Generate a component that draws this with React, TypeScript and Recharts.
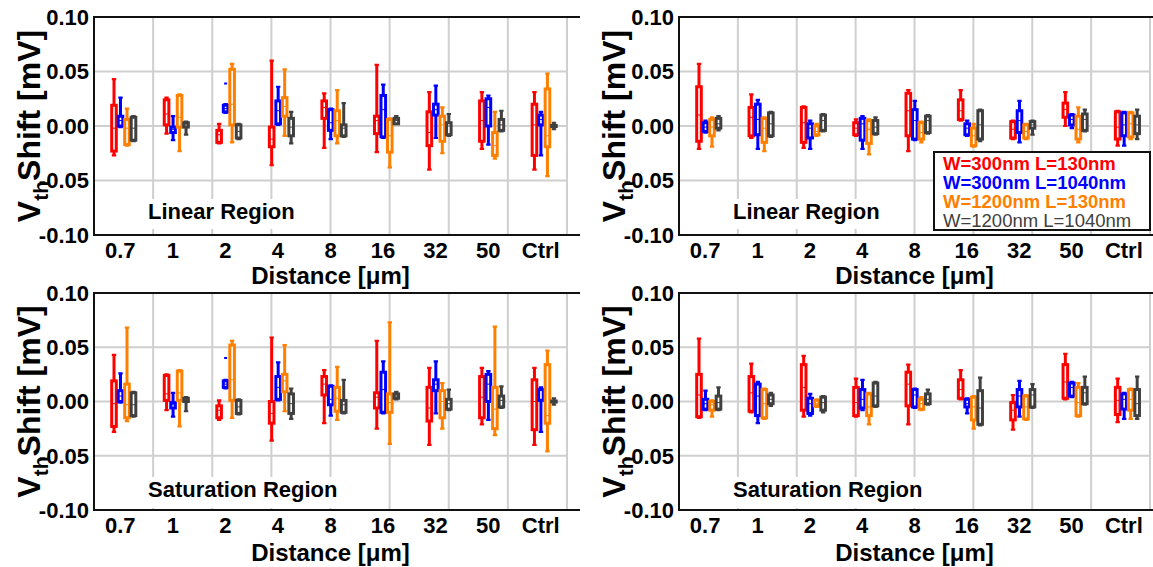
import React from "react";
import { ComposedChart, Bar, XAxis, YAxis, CartesianGrid, ReferenceArea } from "recharts";

const FONT = '"Liberation Sans", Arial, sans-serif';

const distances = ["0.7", "1", "2", "4", "8", "16", "32", "50", "Ctrl"];
const seriesNames = ["W=300nm L=130nm", "W=300nm L=1040nm", "W=1200nm L=130nm", "W=1200nm L=1040nm"];
const seriesColors = ["#ff0000", "#0000ff", "#ff8000", "#404040"];
const yTicks = [-0.1, -0.05, 0, 0.05, 0.1];

// each entry: [min, q1, median, q3, max] per distance
const linLeftW300L130 = [
  [-0.027, -0.023, -0.002, 0.019, 0.043], [-0.007, 0.001, 0.011, 0.024, 0.026], [-0.016, -0.015, -0.008, -0.004, 0.002],
  [-0.036, -0.019, -0.012, -0.001, 0.06], [-0.02, 0.007, 0.017, 0.023, 0.03], [-0.024, -0.007, 0.005, 0.009, 0.056],
  [-0.04, -0.018, -0.006, 0.013, 0.031], [-0.021, -0.014, 0.005, 0.023, 0.031], [-0.04, -0.027, 0.001, 0.02, 0.031],
];
const linLeftW300L1040 = [
  [-0.001, 0.0, 0.005, 0.009, 0.026], [-0.013, -0.006, -0.003, -0.001, 0.009], [0.012, 0.013, 0.016, 0.019, 0.02],
  [0.001, 0.002, 0.014, 0.023, 0.036], [-0.012, -0.004, 0.003, 0.015, 0.016], [-0.011, -0.01, 0.015, 0.028, 0.038],
  [-0.011, 0.01, 0.015, 0.02, 0.037], [-0.017, 0.0, 0.017, 0.025, 0.028], [-0.027, 0.001, 0.006, 0.01, 0.013],
];
const linLeftW1200L130 = [
  [-0.018, -0.017, -0.002, 0.006, 0.016], [-0.023, -0.001, 0.008, 0.028, 0.029], [-0.015, 0.001, 0.02, 0.052, 0.057],
  [-0.009, 0.009, 0.018, 0.026, 0.052], [-0.016, -0.009, 0.005, 0.014, 0.033], [-0.038, -0.024, -0.009, 0.006, 0.007],
  [-0.025, -0.014, 0.001, 0.009, 0.017], [-0.03, -0.027, -0.018, -0.006, 0.013], [-0.046, -0.019, -0.009, 0.034, 0.048],
];
const linLeftW1200L1040 = [
  [-0.014, -0.013, -0.002, 0.008, 0.009], [-0.008, -0.001, 0.001, 0.003, 0.004], [-0.012, -0.011, -0.005, 0.001, 0.002],
  [-0.016, -0.009, -0.001, 0.007, 0.013], [-0.01, -0.009, -0.002, 0.001, 0.021], [0.002, 0.002, 0.005, 0.007, 0.009],
  [-0.009, -0.008, 0.0, 0.003, 0.011], [-0.005, -0.004, 0.001, 0.006, 0.014], [-0.003, -0.0005, 0.0, 0.0005, 0.003],
];

const linRightW300L130 = [
  [-0.021, -0.014, 0.01, 0.036, 0.057], [-0.011, -0.009, 0.008, 0.017, 0.029], [-0.02, -0.015, 0.003, 0.017, 0.018],
  [-0.009, -0.008, -0.002, 0.003, 0.006], [-0.023, -0.009, 0.014, 0.03, 0.033], [0.005, 0.006, 0.014, 0.024, 0.033],
  [-0.012, -0.011, -0.003, 0.004, 0.005], [0.0, 0.008, 0.015, 0.021, 0.031], [-0.018, -0.012, -0.001, 0.013, 0.014],
];
const linRightW300L1040 = [
  [-0.006, -0.005, -0.001, 0.003, 0.005], [-0.021, -0.008, 0.006, 0.02, 0.024], [-0.021, -0.011, -0.002, 0.002, 0.005],
  [-0.021, -0.013, 0.002, 0.007, 0.009], [-0.013, -0.012, 0.005, 0.015, 0.023], [-0.009, -0.008, -0.002, 0.002, 0.005],
  [-0.015, -0.006, 0.005, 0.014, 0.023], [-0.002, 0.001, 0.006, 0.01, 0.011], [-0.018, -0.009, 0.001, 0.012, 0.013],
];
const linRightW1200L130 = [
  [-0.019, -0.009, -0.001, 0.006, 0.008], [-0.023, -0.015, -0.002, 0.007, 0.008], [-0.009, -0.008, -0.005, 0.0, 0.002],
  [-0.026, -0.016, -0.003, 0.005, 0.006], [-0.015, -0.012, -0.006, 0.003, 0.004], [-0.019, -0.018, -0.009, -0.002, 0.002],
  [-0.012, -0.011, -0.005, 0.001, 0.002], [-0.015, -0.012, -0.003, 0.009, 0.017], [-0.012, -0.01, 0.002, 0.012, 0.013],
];
const linRightW1200L1040 = [
  [-0.004, -0.002, 0.002, 0.007, 0.009], [-0.01, -0.009, 0.002, 0.012, 0.013], [-0.005, -0.004, 0.005, 0.01, 0.011],
  [-0.008, -0.007, -0.001, 0.005, 0.008], [-0.007, -0.006, 0.005, 0.009, 0.01], [-0.014, -0.012, 0.001, 0.014, 0.015],
  [-0.008, -0.002, 0.001, 0.004, 0.005], [-0.005, -0.004, 0.006, 0.011, 0.015], [-0.012, -0.007, 0.001, 0.009, 0.015],
];

const satLeftW300L130 = [
  [-0.028, -0.023, -0.002, 0.019, 0.043], [-0.008, 0.001, 0.007, 0.024, 0.025], [-0.017, -0.015, -0.008, -0.004, 0.001],
  [-0.036, -0.02, -0.011, 0.0, 0.059], [-0.02, 0.006, 0.016, 0.023, 0.029], [-0.025, -0.006, 0.004, 0.008, 0.056],
  [-0.04, -0.018, -0.006, 0.013, 0.031], [-0.021, -0.015, 0.004, 0.023, 0.031], [-0.04, -0.026, 0.0, 0.02, 0.031],
];
const satLeftW300L1040 = [
  [-0.001, 0.0, 0.005, 0.01, 0.026], [-0.014, -0.006, -0.003, -0.001, 0.008], [0.012, 0.013, 0.016, 0.019, 0.02],
  [0.001, 0.002, 0.013, 0.023, 0.036], [-0.013, -0.003, 0.002, 0.014, 0.015], [-0.011, -0.01, 0.011, 0.027, 0.037],
  [-0.011, 0.01, 0.016, 0.02, 0.037], [-0.017, 0.0, 0.016, 0.025, 0.028], [-0.028, 0.001, 0.002, 0.011, 0.013],
];
const satLeftW1200L130 = [
  [-0.018, -0.015, -0.003, 0.016, 0.068], [-0.023, 0.001, 0.008, 0.028, 0.029], [-0.015, 0.001, 0.02, 0.052, 0.056],
  [-0.009, 0.009, 0.019, 0.025, 0.052], [-0.017, -0.009, 0.003, 0.013, 0.032], [-0.039, -0.01, -0.001, 0.007, 0.073],
  [-0.025, -0.015, 0.0, 0.01, 0.017], [-0.031, -0.025, -0.007, 0.013, 0.069], [-0.046, -0.02, -0.013, 0.034, 0.047],
];
const satLeftW1200L1040 = [
  [-0.014, -0.013, -0.003, 0.008, 0.009], [-0.009, 0.0, 0.002, 0.003, 0.004], [-0.012, -0.011, -0.005, 0.001, 0.002],
  [-0.016, -0.011, -0.002, 0.007, 0.012], [-0.011, -0.01, -0.003, 0.001, 0.02], [0.002, 0.003, 0.005, 0.007, 0.009],
  [-0.008, -0.007, -0.002, 0.002, 0.011], [-0.006, -0.005, 0.001, 0.005, 0.014], [-0.003, -0.0005, 0.0, 0.0005, 0.003],
];

const satRightW300L130 = [
  [-0.015, -0.014, 0.006, 0.025, 0.058], [-0.01, -0.009, 0.008, 0.023, 0.035], [-0.014, -0.008, 0.013, 0.034, 0.042],
  [-0.014, -0.013, -0.001, 0.013, 0.021], [-0.021, -0.004, 0.016, 0.027, 0.034], [0.002, 0.003, 0.011, 0.02, 0.029],
  [-0.026, -0.017, -0.008, -0.001, 0.006], [0.002, 0.003, 0.018, 0.034, 0.044], [-0.019, -0.012, 0.001, 0.013, 0.021],
];
const satRightW300L1040 = [
  [-0.008, -0.007, -0.002, 0.002, 0.01], [-0.02, -0.013, 0.005, 0.016, 0.018], [-0.013, -0.011, -0.002, 0.003, 0.007],
  [-0.008, -0.006, 0.002, 0.011, 0.02], [-0.006, -0.005, 0.006, 0.011, 0.012], [-0.011, -0.005, -0.002, 0.002, 0.003],
  [-0.014, -0.005, 0.005, 0.011, 0.019], [0.004, 0.005, 0.013, 0.017, 0.018], [-0.016, -0.007, 0.002, 0.007, 0.008],
];
const satRightW1200L130 = [
  [-0.014, -0.008, -0.003, 0.0, 0.001], [-0.016, -0.015, -0.002, 0.011, 0.012], [-0.005, -0.004, -0.002, 0.001, 0.002],
  [-0.021, -0.013, -0.005, 0.007, 0.008], [-0.008, -0.007, -0.002, 0.002, 0.004], [-0.025, -0.017, -0.005, 0.004, 0.005],
  [-0.017, -0.016, -0.005, 0.005, 0.006], [-0.014, -0.013, -0.001, 0.013, 0.017], [-0.016, -0.008, 0.002, 0.011, 0.012],
];
const satRightW1200L1040 = [
  [-0.008, -0.007, -0.001, 0.005, 0.013], [-0.004, -0.002, 0.002, 0.006, 0.008], [-0.01, -0.008, -0.001, 0.004, 0.005],
  [-0.005, -0.004, 0.005, 0.017, 0.018], [-0.003, -0.002, 0.002, 0.007, 0.011], [-0.022, -0.021, -0.006, 0.01, 0.022],
  [-0.006, -0.005, 0.006, 0.011, 0.016], [-0.003, -0.002, 0.008, 0.013, 0.023], [-0.016, -0.013, -0.002, 0.011, 0.023],
];

// isolated points drawn apart from the whiskers
const linLeftOutliers = [{ distance: "2", series: 1, value: 0.039 }];
const satLeftOutliers = [{ distance: "2", series: 1, value: 0.04 }];

const GROUP_SHIFT = 3.75;

function BoxShape(props: any) {
  const { x, y, width, height, box, color, extra } = props;
  if (!box || x == null || y == null) return null;
  const [lo, q1, med, q3, hi] = box;
  const yOf = (v: number) => y + height - ((v - lo) / (hi - lo)) * height;
  const cx = x + width / 2 + GROUP_SHIFT;
  const half = 2.3;
  const top = yOf(q3);
  const bottom = yOf(q1);
  return (
    <g>
      <line x1={cx} x2={cx} y1={yOf(hi)} y2={yOf(lo)} stroke={color} strokeWidth={3} />
      <line x1={cx - 2.2} x2={cx + 2.2} y1={yOf(hi)} y2={yOf(hi)} stroke={color} strokeWidth={2.2} />
      <line x1={cx - 2.2} x2={cx + 2.2} y1={yOf(lo)} y2={yOf(lo)} stroke={color} strokeWidth={2.2} />
      <rect x={cx - half} y={top} width={half * 2} height={Math.max(bottom - top, 0.5)} fill="#fff" stroke={color} strokeWidth={3} />
      <line x1={cx - half} x2={cx + half} y1={yOf(med)} y2={yOf(med)} stroke={color} strokeWidth={1} />
      {extra.map((v: number, i: number) => (
        <line key={i} x1={cx - 1.5} x2={cx + 1.5} y1={yOf(v)} y2={yOf(v)} stroke={color} strokeWidth={2} />
      ))}
    </g>
  );
}

function YTitle({ viewBox }: any) {
  const x = viewBox.x + 6;
  const cy = viewBox.y + viewBox.height / 2;
  return (
    <text x={x} y={cy} transform={`rotate(-90 ${x} ${cy})`} textAnchor="middle" fontFamily={FONT} fontWeight="bold" fontSize={32} fill="#000">
      V<tspan fontSize={21} dy={8}>th</tspan>
      <tspan dy={-8}>Shift [mV]</tspan>
    </text>
  );
}

const tickStyle = { fontSize: 22, fontWeight: "bold", fill: "#000", fontFamily: FONT };

function Panel({ series, outliers, left, top, width, height, marginRight, xAxisHeight }: any) {
  const rows = distances.map((d, i) => ({ distance: d, boxes: series.map((s: number[][]) => s[i]) }));
  const gridTicks = distances.map((_, i) => i).concat(distances.length);
  return (
    <div style={{ position: "absolute", left, top }}>
      <ComposedChart width={width} height={height} data={rows} barGap={0} margin={{ top: 17, right: marginRight, bottom: 0, left: 34 }}>
        <CartesianGrid xAxisId="grid" stroke="#cfcfcf" strokeWidth={2} />
        <XAxis
          dataKey="distance"
          height={xAxisHeight}
          axisLine={false}
          tickLine={false}
          tickSize={3}
          tickMargin={4}
          interval={0}
          tick={tickStyle}
          label={{ value: "Distance [\u03bcm]", position: "insideBottom", offset: 6, fontSize: 24, fontWeight: "bold", fill: "#000", fontFamily: FONT }}
        />
        <XAxis xAxisId="grid" type="number" domain={[0, distances.length]} ticks={gridTicks} allowDataOverflow hide />
        <YAxis
          type="number"
          domain={[-0.1, 0.1]}
          ticks={yTicks}
          allowDataOverflow
          width={60}
          axisLine={false}
          tickLine={false}
          tickSize={3}
          tickMargin={2}
          tick={tickStyle}
          tickFormatter={(v: number) => v.toFixed(2)}
          label={{ content: (p: any) => <YTitle viewBox={p.viewBox} /> }}
        />
        {series.map((_: any, si: number) => (
          <Bar
            key={si}
            dataKey={(r: any) => [r.boxes[si][0], r.boxes[si][4]]}
            barSize={6.5}
            isAnimationActive={false}
            shape={(p: any) => (
              <BoxShape
                {...p}
                box={rows[p.index].boxes[si]}
                color={seriesColors[si]}
                extra={outliers.filter((o: any) => o.series === si && o.distance === rows[p.index].distance).map((o: any) => o.value)}
              />
            )}
          />
        ))}
        <ReferenceArea xAxisId="grid" x1={0} x2={distances.length} y1={-0.1} y2={0.1} fill="none" fillOpacity={0} stroke="#111" strokeWidth={2} ifOverflow="visible" />
      </ComposedChart>
    </div>
  );
}

function RegionLabel({ text, left, top, height }: any) {
  return (
    <div style={{ position: "absolute", left, top, height, lineHeight: `${height}px`, padding: "0 4px 0 2px", background: "#fff", font: `bold 22px ${FONT}`, color: "#000", whiteSpace: "nowrap" }}>
      {text}
    </div>
  );
}

export default function App() {
  return (
    <div style={{ position: "absolute", left: 0, top: 0, width: 1153, height: 567, background: "#fff", overflow: "hidden" }}>
      <Panel series={[linLeftW300L130, linLeftW300L1040, linLeftW1200L130, linLeftW1200L1040]} outliers={linLeftOutliers} left={0} top={0} width={580} height={290} marginRight={13} xAxisHeight={55} />
      <Panel series={[linRightW300L130, linRightW300L1040, linRightW1200L130, linRightW1200L1040]} outliers={[]} left={585} top={0} width={568} height={290} marginRight={3} xAxisHeight={55} />
      <Panel series={[satLeftW300L130, satLeftW300L1040, satLeftW1200L130, satLeftW1200L1040]} outliers={satLeftOutliers} left={0} top={276} width={580} height={291} marginRight={13} xAxisHeight={57} />
      <Panel series={[satRightW300L130, satRightW300L1040, satRightW1200L130, satRightW1200L1040]} outliers={[]} left={585} top={276} width={568} height={291} marginRight={3} xAxisHeight={57} />
      <RegionLabel text="Linear Region" left={146} top={199} height={30} />
      <RegionLabel text="Linear Region" left={731} top={199} height={30} />
      <RegionLabel text="Saturation Region" left={146} top={477} height={31} />
      <RegionLabel text="Saturation Region" left={731} top={477} height={31} />
      <div style={{ position: "absolute", left: 933, top: 151, width: 206, height: 75, border: "2px solid #111", background: "#fff", padding: "1px 0 0 8px", boxSizing: "content-box" }}>
        {seriesNames.map((n, i) => (
          <div key={n} style={{ color: seriesColors[i], font: `${i === 3 ? "normal" : "bold"} 18.5px ${FONT}`, lineHeight: "19px", whiteSpace: "nowrap" }}>
            {n}
          </div>
        ))}
      </div>
    </div>
  );
}
